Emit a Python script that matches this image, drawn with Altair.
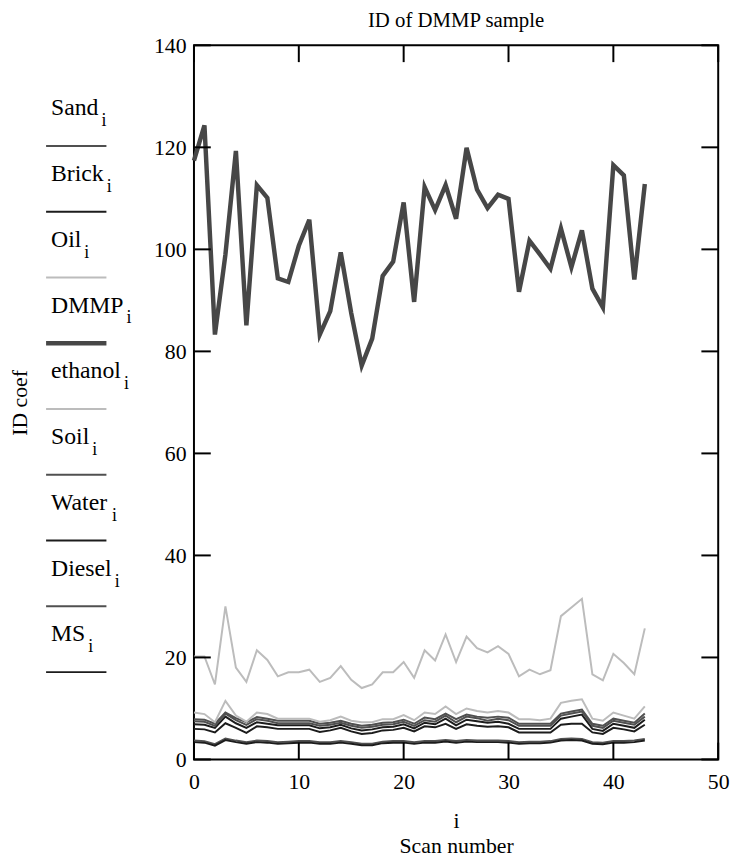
import altair as alt
import pandas as pd

# ---------------- data ----------------
scan = list(range(44))
series_names = ["Sand", "Brick", "Oil", "DMMP", "ethanol", "Soil", "Water", "Diesel", "MS"]

dmmp = [117.4, 124.3, 83.3, 99.0, 119.3, 85.1, 112.6, 110.1, 94.3, 93.6, 100.7, 105.8, 83.3, 87.9,
        99.4, 87.5, 77.2, 82.5, 94.8, 97.6, 109.2, 89.7, 112.2, 107.7, 112.6, 106.0, 119.9, 111.7,
        108.1, 110.7, 109.9, 91.7, 101.7, 99.0, 96.2, 104.1, 96.5, 103.7, 92.3, 88.6, 116.5, 114.5,
        94.1, 112.8]
ethanol = [20.2, 20.2, 14.7, 30.0, 18.0, 15.2, 21.4, 19.5, 16.3, 17.1, 17.1, 17.6, 15.2, 16.0,
           18.3, 15.6, 14.0, 14.7, 17.1, 17.1, 19.1, 16.0, 21.4, 19.4, 24.5, 19.1, 24.1, 21.8,
           21.0, 22.2, 20.7, 16.3, 17.6, 16.7, 17.5, 28.1, 29.8, 31.5, 16.7, 15.5, 20.7, 18.9,
           16.7, 25.7]
oil = [9.2, 8.9, 7.3, 11.5, 8.6, 7.4, 9.2, 8.9, 8.0, 8.0, 8.0, 8.0, 7.4, 7.7, 8.4, 7.6, 7.3, 7.3,
       7.9, 7.9, 8.7, 7.7, 9.2, 8.9, 10.4, 8.9, 10.0, 9.5, 9.2, 9.5, 9.2, 7.9, 7.9, 7.7, 8.0, 11.1,
       11.5, 11.8, 8.0, 7.6, 9.2, 8.6, 8.0, 10.4]
sand = [7.9, 7.8, 7.0, 9.2, 8.1, 7.3, 8.3, 8.0, 7.6, 7.6, 7.6, 7.6, 7.0, 7.2, 7.6, 7.0, 6.6, 6.8,
        7.2, 7.3, 7.8, 7.0, 8.2, 7.9, 9.0, 7.9, 8.8, 8.4, 8.2, 8.4, 8.2, 7.0, 7.0, 7.0, 7.0, 9.0,
        9.4, 9.8, 7.0, 6.6, 8.0, 7.6, 7.2, 9.0]
soil = [7.5, 7.4, 6.6, 9.0, 7.7, 6.8, 7.9, 7.6, 7.1, 7.1, 7.1, 7.1, 6.6, 6.8, 7.2, 6.6, 6.2, 6.4,
        6.8, 6.9, 7.4, 6.6, 7.7, 7.4, 8.6, 7.3, 8.4, 8.1, 7.6, 8.0, 7.7, 6.6, 6.6, 6.6, 6.6, 8.6,
        9.0, 9.4, 6.6, 6.2, 7.6, 7.2, 6.8, 8.4]
brick = [6.9, 6.8, 6.2, 8.4, 7.1, 6.2, 7.3, 7.0, 6.7, 6.7, 6.7, 6.7, 6.1, 6.3, 6.8, 6.1, 5.7, 5.9,
         6.3, 6.4, 6.9, 6.1, 7.2, 6.9, 8.0, 6.7, 7.8, 7.5, 7.2, 7.4, 7.0, 6.0, 6.0, 6.0, 6.0, 8.0,
         8.4, 8.8, 6.0, 5.6, 7.0, 6.6, 6.2, 7.8]
water = [6.0, 5.9, 5.3, 7.1, 6.2, 5.2, 6.5, 6.3, 6.0, 6.0, 6.0, 6.0, 5.4, 5.7, 6.2, 5.5, 5.0, 5.2,
         5.7, 5.8, 6.2, 5.5, 6.5, 6.3, 7.0, 6.0, 6.9, 6.6, 6.4, 6.5, 6.3, 5.3, 5.3, 5.3, 5.3, 6.8,
         7.0, 7.0, 5.3, 5.0, 6.2, 5.9, 5.5, 6.8]
diesel = [3.7, 3.6, 3.0, 4.1, 3.7, 3.4, 3.7, 3.6, 3.4, 3.5, 3.6, 3.6, 3.4, 3.4, 3.6, 3.4, 3.1, 3.1,
          3.5, 3.6, 3.6, 3.4, 3.6, 3.6, 3.8, 3.6, 3.8, 3.7, 3.7, 3.7, 3.6, 3.4, 3.5, 3.5, 3.6, 4.0,
          4.1, 4.0, 3.4, 3.3, 3.6, 3.6, 3.7, 4.0]
ms = [3.4, 3.3, 2.7, 3.8, 3.4, 3.1, 3.4, 3.3, 3.1, 3.2, 3.3, 3.3, 3.1, 3.1, 3.3, 3.1, 2.8, 2.8,
      3.2, 3.3, 3.3, 3.1, 3.3, 3.3, 3.5, 3.3, 3.5, 3.4, 3.4, 3.4, 3.3, 3.1, 3.2, 3.2, 3.3, 3.7,
      3.8, 3.7, 3.1, 3.0, 3.3, 3.3, 3.4, 3.7]

y_tick_values = [0, 20, 40, 60, 80, 100, 120, 140]
x_tick_values = [0, 10, 20, 30, 40, 50]

# ---------------- styles ----------------
DARK, BLACK, LIGHT = "#505050", "#1c1c1c", "#bcbcbc"
series_colors = [DARK, BLACK, LIGHT, "#474747", LIGHT, DARK, BLACK, DARK, BLACK]
series_widths = [2, 2, 2, 4.5, 2, 2, 2, 2, 2]

FONT = "Liberation Serif"
W, H = 530, 722

values = {"Sand": sand, "Brick": brick, "Oil": oil, "DMMP": dmmp, "ethanol": ethanol,
          "Soil": soil, "Water": water, "Diesel": diesel, "MS": ms}
rows = []
for name in series_names:
    for i, v in zip(scan, values[name]):
        rows.append({"i": i, "series": name, "v": v})
df = pd.DataFrame(rows)

xscale = alt.Scale(domain=[0, 50], nice=False, zero=False)
yscale = alt.Scale(domain=[0, 140], nice=False, zero=False)
cscale = alt.Scale(domain=series_names, range=series_colors)

xaxis = alt.Axis(values=x_tick_values, ticks=False, domain=False, grid=False,
                 labelFont=FONT, labelFontSize=22, labelColor="black",
                 labelPadding=12, labelFlush=False,
                 title=["i", "Scan number"], titleFont=FONT, titleFontSize=22,
                 titleFontWeight="normal", titleColor="black", titleY=52,
                 titleLineHeight=25)
yaxis = alt.Axis(values=y_tick_values, ticks=False, domain=False, grid=False,
                 labelFont=FONT, labelFontSize=22, labelColor="black",
                 labelPadding=8, labelFlush=False,
                 title="ID coef", titleFont=FONT, titleFontSize=22,
                 titleFontWeight="normal", titleColor="black",
                 titleX=-164, titleY=H / 2)

line_layers = []
for name, col, wd in zip(series_names, series_colors, series_widths):
    line_layers.append(
        alt.Chart(df).transform_filter(alt.datum.series == name)
        .mark_line(strokeJoin="miter", strokeWidth=wd).encode(
            x=alt.X("i:Q", scale=xscale, axis=xaxis),
            y=alt.Y("v:Q", scale=yscale, axis=yaxis),
            color=alt.Color("series:N", scale=cscale, legend=None),
        )
    )

ytick_df = pd.DataFrame({"v": y_tick_values})
xtick_df = pd.DataFrame({"i": x_tick_values})
TL = 17
left_ticks = alt.Chart(ytick_df).mark_rule(color="black", strokeWidth=2).encode(
    y=alt.Y("v:Q", scale=yscale, axis=yaxis), x=alt.value(0), x2=alt.value(TL))
right_ticks = alt.Chart(ytick_df).mark_rule(color="black", strokeWidth=2).encode(
    y=alt.Y("v:Q", scale=yscale, axis=yaxis), x=alt.value(W - TL), x2=alt.value(W))
top_ticks = alt.Chart(xtick_df).mark_rule(color="black", strokeWidth=2).encode(
    x=alt.X("i:Q", scale=xscale, axis=xaxis), y=alt.value(0), y2=alt.value(TL))
bottom_ticks = alt.Chart(xtick_df).mark_rule(color="black", strokeWidth=2).encode(
    x=alt.X("i:Q", scale=xscale, axis=xaxis), y=alt.value(H - TL), y2=alt.value(H))

# ---------------- Mathcad-style legend ----------------
LEG_FS = 24
char_w = {"S": 556, "a": 444, "n": 500, "d": 500, "B": 667, "r": 333, "i": 278, "c": 444,
          "k": 500, "O": 722, "l": 278, "D": 722, "M": 889, "P": 556, "e": 444, "t": 278,
          "h": 500, "o": 500, "W": 944, "s": 389}
LX = -144.5
legend_layers = []
for k, (name, wd) in enumerate(zip(series_names, series_widths)):
    wpx = sum(char_w.get(ch, 500) for ch in name) / 1000 * LEG_FS
    line_y = 101.7 + 66.5 * k
    one = pd.DataFrame({"series": [name]})
    legend_layers.append(
        alt.Chart(one).mark_text(font=FONT, fontSize=LEG_FS, align="left",
                                 baseline="alphabetic", color="black").encode(
            x=alt.value(LX), y=alt.value(line_y - 31), text="series:N"))
    legend_layers.append(
        alt.Chart(one).mark_text(font=FONT, fontSize=18, align="left",
                                 baseline="alphabetic", color="black").encode(
            x=alt.value(LX + wpx + 3), y=alt.value(line_y - 20), text=alt.value("i")))
    legend_layers.append(
        alt.Chart(one).mark_rule(strokeWidth=wd).encode(
            x=alt.value(-149.5), x2=alt.value(-88.5), y=alt.value(line_y),
            color=alt.Color("series:N", scale=cscale, legend=None)))

chart = alt.layer(
    *line_layers, left_ticks, right_ticks, top_ticks, bottom_ticks, *legend_layers
).properties(
    width=W, height=H,
    title=alt.TitleParams("ID of DMMP sample", font=FONT, fontSize=21, fontWeight="normal",
                          color="black", anchor="middle", offset=4),
    autosize=alt.AutoSizeParams(type="none"),
    padding={"left": 188, "top": 33, "right": 19, "bottom": 105},
).configure_view(stroke="black", strokeWidth=2)

chart.save("out.html", embed_options={"renderer": "svg", "actions": False})
